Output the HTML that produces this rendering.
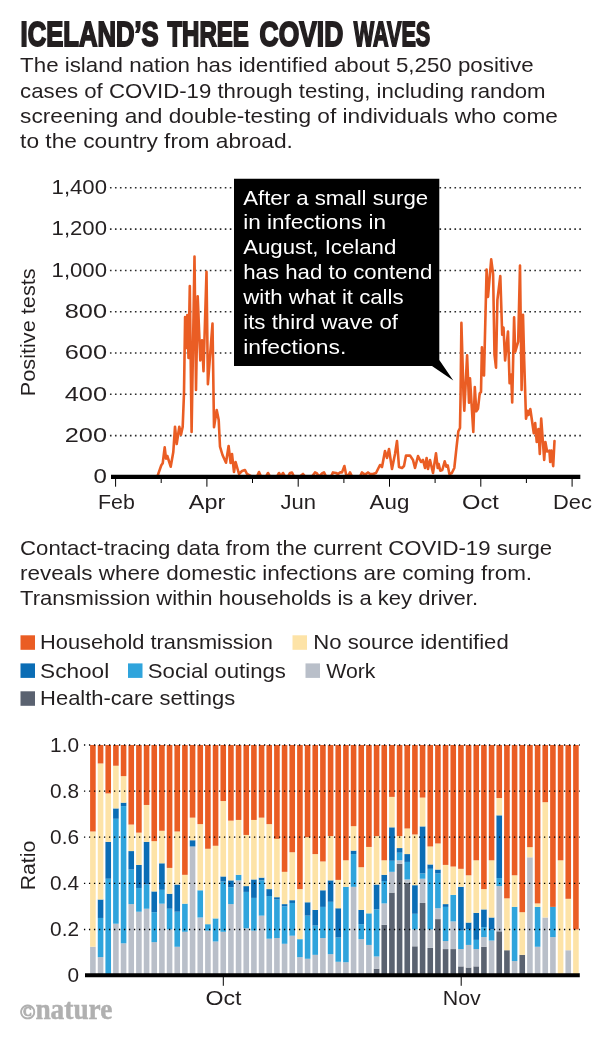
<!DOCTYPE html>
<html lang="en"><head><meta charset="utf-8"><title>Iceland's three COVID waves</title>
<style>html,body{margin:0;padding:0;background:#fff}body{width:600px;height:1040px;overflow:hidden}svg{display:block}text{font-family:"Liberation Sans",Arial,sans-serif;fill:#231F20}.b{font-size:20.8px}.w{fill:#fff}.t{font-weight:bold;font-size:34.5px}.n{font-family:"Liberation Serif","DejaVu Serif",serif;font-weight:bold;fill:#b0b0b0}.g{stroke:#1a1a1a;stroke-width:1.5;stroke-dasharray:1.6 3.4;fill:none}</style></head><body>
<svg width="600" height="1040" viewBox="0 0 600 1040">
<rect width="600" height="1040" fill="#fff"/>
<text class="t" x="20.6" y="46.1" textLength="138.0" lengthAdjust="spacingAndGlyphs" stroke="#231F20" stroke-width="1.9" stroke-linejoin="miter">ICELAND’S</text>
<text class="t" x="167.4" y="46.1" textLength="81.4" lengthAdjust="spacingAndGlyphs" stroke="#231F20" stroke-width="1.9" stroke-linejoin="miter">THREE</text>
<text class="t" x="259.6" y="46.1" textLength="83.6" lengthAdjust="spacingAndGlyphs" stroke="#231F20" stroke-width="1.9" stroke-linejoin="miter">COVID</text>
<text class="t" x="353.8" y="46.1" textLength="76.4" lengthAdjust="spacingAndGlyphs" stroke="#231F20" stroke-width="1.9" stroke-linejoin="miter">WAVES</text>
<text class="b" x="20.1" y="72.4" textLength="513.5" lengthAdjust="spacingAndGlyphs">The island nation has identified about 5,250 positive</text>
<text class="b" x="20.1" y="97.5" textLength="525.5" lengthAdjust="spacingAndGlyphs">cases of COVID-19 through testing, including random</text>
<text class="b" x="20.1" y="122.7" textLength="537.8" lengthAdjust="spacingAndGlyphs">screening and double-testing of individuals who come</text>
<text class="b" x="20.1" y="147.7" textLength="272.8" lengthAdjust="spacingAndGlyphs">to the country from abroad.</text>
<line class="g" style="stroke-dasharray:1.6 3.393;stroke-width:1.55;stroke:#2a2a2a" x1="109.95" x2="581.2" y1="435.6" y2="435.6"/>
<line class="g" style="stroke-dasharray:1.6 3.393;stroke-width:1.55;stroke:#2a2a2a" x1="109.95" x2="581.2" y1="394.3" y2="394.3"/>
<line class="g" style="stroke-dasharray:1.6 3.393;stroke-width:1.55;stroke:#2a2a2a" x1="109.95" x2="581.2" y1="353.0" y2="353.0"/>
<line class="g" style="stroke-dasharray:1.6 3.393;stroke-width:1.55;stroke:#2a2a2a" x1="109.95" x2="581.2" y1="311.7" y2="311.7"/>
<line class="g" style="stroke-dasharray:1.6 3.393;stroke-width:1.55;stroke:#2a2a2a" x1="109.95" x2="581.2" y1="270.4" y2="270.4"/>
<line class="g" style="stroke-dasharray:1.6 3.393;stroke-width:1.55;stroke:#2a2a2a" x1="109.95" x2="581.2" y1="229.1" y2="229.1"/>
<line class="g" style="stroke-dasharray:1.6 3.393;stroke-width:1.55;stroke:#2a2a2a" x1="109.95" x2="581.2" y1="187.8" y2="187.8"/>
<text class="b" x="93.6" y="483.2" textLength="13.4" lengthAdjust="spacingAndGlyphs">0</text>
<text class="b" x="64.7" y="441.9" textLength="42.3" lengthAdjust="spacingAndGlyphs">200</text>
<text class="b" x="64.7" y="400.6" textLength="42.3" lengthAdjust="spacingAndGlyphs">400</text>
<text class="b" x="64.7" y="359.3" textLength="42.3" lengthAdjust="spacingAndGlyphs">600</text>
<text class="b" x="64.7" y="318.0" textLength="42.3" lengthAdjust="spacingAndGlyphs">800</text>
<text class="b" x="51.6" y="276.7" textLength="55.4" lengthAdjust="spacingAndGlyphs">1,000</text>
<text class="b" x="51.6" y="235.4" textLength="55.4" lengthAdjust="spacingAndGlyphs">1,200</text>
<text class="b" x="51.6" y="194.1" textLength="55.4" lengthAdjust="spacingAndGlyphs">1,400</text>
<text class="b" transform="translate(35.3,396.3) rotate(-90)" textLength="128" lengthAdjust="spacingAndGlyphs">Positive tests</text>
<polyline fill="none" stroke="#EA5D24" stroke-width="2.6" stroke-linejoin="round" stroke-linecap="round" points="157.3,476.6 161.3,465.3 162.7,463.3 164.7,447.3 166.0,458.7 167.3,456.0 170.7,466.7 173.3,452.0 175.0,426.7 176.7,444.0 179.3,426.7 181.0,434.7 182.7,426.7 184.0,393.3 185.1,317.0 186.1,348.0 187.3,315.0 188.5,358.0 189.8,286.1 191.6,432.0 194.5,256.5 196.0,390.0 197.7,296.2 200.3,360.4 202.0,340.2 203.5,371.2 206.5,271.7 207.9,384.2 212.5,323.6 214.0,427.3 216.7,410.0 218.7,420.0 220.0,446.7 222.5,455.0 226.0,462.7 228.6,446.0 230.6,463.0 232.0,454.0 234.0,472.0 235.6,462.0 239.0,474.0 242.0,471.0 245.0,470.0 247.0,474.0 252.0,476.6 257.0,476.6 259.0,472.0 261.0,476.6 266.0,476.6 268.0,473.0 270.0,476.6 277.0,476.6 279.0,473.0 281.0,476.6 283.0,473.0 285.0,476.6 288.0,476.6 290.0,473.0 292.0,472.5 294.0,476.6 300.0,476.6 303.0,474.0 305.0,476.6 312.0,476.6 315.0,472.4 317.0,473.5 319.0,476.6 322.0,473.5 324.0,472.4 326.0,476.6 331.0,476.6 333.0,472.4 336.0,473.0 338.0,474.0 340.0,472.4 342.0,472.4 344.4,466.0 346.0,474.0 348.0,476.6 350.0,472.4 352.0,476.6 356.0,476.6 360.0,476.6 362.0,472.4 364.0,474.0 366.0,474.0 368.0,472.4 370.0,474.0 373.0,474.0 376.0,473.0 380.0,465.0 382.0,467.0 385.0,451.0 387.0,458.0 389.0,449.0 392.0,469.0 395.0,454.0 397.0,441.0 399.0,467.0 402.0,468.0 404.0,466.0 406.0,455.6 410.0,455.6 413.0,460.0 415.0,468.0 418.0,456.0 421.0,462.0 423.0,460.0 425.0,468.0 426.6,458.0 428.0,469.0 430.0,460.0 433.0,473.0 436.0,453.3 437.7,468.0 438.7,464.0 440.3,470.7 442.3,470.0 444.7,461.3 446.3,466.7 447.7,465.3 449.4,474.0 451.7,473.3 454.3,468.0 456.3,449.3 458.3,431.3 460.0,428.0 460.6,393.3 461.4,322.9 463.5,395.0 464.3,410.7 467.1,355.3 469.0,402.7 470.0,378.4 473.3,432.0 474.8,387.0 476.3,411.3 478.0,408.7 479.7,393.3 481.0,392.0 481.9,347.4 483.0,374.8 484.0,375.5 486.6,269.5 488.0,297.0 491.2,259.4 493.1,273.8 494.5,354.6 496.0,367.6 497.4,299.8 500.3,276.0 502.2,334.6 503.5,327.5 505.1,360.5 508.0,331.5 509.6,383.3 511.2,374.5 512.2,402.5 514.1,317.4 515.2,352.0 518.2,341.6 520.0,265.5 521.6,390.0 523.0,314.8 524.2,360.6 526.0,418.6 527.7,410.8 528.6,415.0 530.3,409.0 533.8,433.3 535.2,423.0 536.7,442.0 538.4,429.0 539.8,454.0 541.2,418.6 544.2,460.0 545.4,442.0 547.1,451.5 549.4,450.6 550.2,462.0 551.4,450.6 553.2,466.2 554.5,441.0"/>
<line x1="111" x2="580.3" y1="476.9" y2="476.9" stroke="#000" stroke-width="4.1"/>
<line x1="115.6" x2="115.6" y1="478" y2="486.7" stroke="#000" stroke-width="1"/>
<text class="b" x="98.0" y="509.2" textLength="36.8" lengthAdjust="spacingAndGlyphs">Feb</text>
<line x1="161.2" x2="161.2" y1="478" y2="483" stroke="#000" stroke-width="1"/>
<line x1="206.9" x2="206.9" y1="478" y2="486.7" stroke="#000" stroke-width="1"/>
<text class="b" x="188.8" y="509.2" textLength="36.4" lengthAdjust="spacingAndGlyphs">Apr</text>
<line x1="252.5" x2="252.5" y1="478" y2="483" stroke="#000" stroke-width="1"/>
<line x1="298.2" x2="298.2" y1="478" y2="486.7" stroke="#000" stroke-width="1"/>
<text class="b" x="280.5" y="509.2" textLength="35.5" lengthAdjust="spacingAndGlyphs">Jun</text>
<line x1="343.9" x2="343.9" y1="478" y2="483" stroke="#000" stroke-width="1"/>
<line x1="389.5" x2="389.5" y1="478" y2="486.7" stroke="#000" stroke-width="1"/>
<text class="b" x="369.6" y="509.2" textLength="39.7" lengthAdjust="spacingAndGlyphs">Aug</text>
<line x1="435.1" x2="435.1" y1="478" y2="483" stroke="#000" stroke-width="1"/>
<line x1="480.8" x2="480.8" y1="478" y2="486.7" stroke="#000" stroke-width="1"/>
<text class="b" x="462.1" y="509.2" textLength="36.8" lengthAdjust="spacingAndGlyphs">Oct</text>
<line x1="526.4" x2="526.4" y1="478" y2="483" stroke="#000" stroke-width="1"/>
<line x1="572.1" x2="572.1" y1="478" y2="486.7" stroke="#000" stroke-width="1"/>
<text class="b" x="553.0" y="509.2" textLength="38.8" lengthAdjust="spacingAndGlyphs">Dec</text>
<path d="M234 178.8H439.3V360L453.3 380.4L432 366H234Z" fill="#000"/>
<text class="b w" x="243.2" y="204.5" textLength="185.0" lengthAdjust="spacingAndGlyphs">After a small surge</text>
<text class="b w" x="243.2" y="229.4" textLength="142.8" lengthAdjust="spacingAndGlyphs">in infections in</text>
<text class="b w" x="243.2" y="254.3" textLength="153.1" lengthAdjust="spacingAndGlyphs">August, Iceland</text>
<text class="b w" x="243.2" y="279.2" textLength="189.1" lengthAdjust="spacingAndGlyphs">has had to contend</text>
<text class="b w" x="243.2" y="304.1" textLength="160.4" lengthAdjust="spacingAndGlyphs">with what it calls</text>
<text class="b w" x="243.2" y="329.0" textLength="154.8" lengthAdjust="spacingAndGlyphs">its third wave of</text>
<text class="b w" x="243.2" y="353.9" textLength="103.1" lengthAdjust="spacingAndGlyphs">infections.</text>
<text class="b" x="20.1" y="555.0" textLength="532.0" lengthAdjust="spacingAndGlyphs">Contact-tracing data from the current COVID-19 surge</text>
<text class="b" x="20.1" y="579.8" textLength="512.0" lengthAdjust="spacingAndGlyphs">reveals where domestic infections are coming from.</text>
<text class="b" x="20.1" y="604.5" textLength="458.0" lengthAdjust="spacingAndGlyphs">Transmission within households is a key driver.</text>
<rect x="20.5" y="635.3" width="14.5" height="14.5" fill="#EA5D24"/>
<text class="b" x="40.1" y="649.4" textLength="232.8" lengthAdjust="spacingAndGlyphs">Household transmission</text>
<rect x="292.5" y="635.3" width="14.5" height="14.5" fill="#FDE3A7"/>
<text class="b" x="313.3" y="649.4" textLength="195.4" lengthAdjust="spacingAndGlyphs">No source identified</text>
<rect x="20.5" y="663.4" width="14.5" height="14.5" fill="#0B6DB5"/>
<text class="b" x="40.1" y="677.5" textLength="69.1" lengthAdjust="spacingAndGlyphs">School</text>
<rect x="128.0" y="663.4" width="14.5" height="14.5" fill="#2FA4DC"/>
<text class="b" x="147.8" y="677.5" textLength="138.1" lengthAdjust="spacingAndGlyphs">Social outings</text>
<rect x="305.5" y="663.4" width="14.5" height="14.5" fill="#B9BFC9"/>
<text class="b" x="326.3" y="677.5" textLength="49.2" lengthAdjust="spacingAndGlyphs">Work</text>
<rect x="20.5" y="691.3" width="14.5" height="14.5" fill="#5A6270"/>
<text class="b" x="40.1" y="705.4" textLength="195.1" lengthAdjust="spacingAndGlyphs">Health-care settings</text>
<rect x="90.10" y="946.77" width="5.60" height="28.83" fill="#B9BFC9"/>
<rect x="90.10" y="831.48" width="5.60" height="115.30" fill="#FDE3A7"/>
<rect x="90.10" y="745.00" width="5.60" height="86.48" fill="#EA5D24"/>
<rect x="97.77" y="957.15" width="5.60" height="18.45" fill="#B9BFC9"/>
<rect x="97.77" y="917.95" width="5.60" height="39.20" fill="#2FA4DC"/>
<rect x="97.77" y="899.50" width="5.60" height="18.45" fill="#0B6DB5"/>
<rect x="97.77" y="763.45" width="5.60" height="136.05" fill="#FDE3A7"/>
<rect x="97.77" y="745.00" width="5.60" height="18.45" fill="#EA5D24"/>
<rect x="105.43" y="878.75" width="5.60" height="96.85" fill="#2FA4DC"/>
<rect x="105.43" y="841.85" width="5.60" height="36.90" fill="#0B6DB5"/>
<rect x="105.43" y="793.43" width="5.60" height="48.43" fill="#FDE3A7"/>
<rect x="105.43" y="745.00" width="5.60" height="48.43" fill="#EA5D24"/>
<rect x="113.10" y="923.72" width="5.60" height="51.88" fill="#B9BFC9"/>
<rect x="113.10" y="818.79" width="5.60" height="104.92" fill="#2FA4DC"/>
<rect x="113.10" y="808.41" width="5.60" height="10.38" fill="#0B6DB5"/>
<rect x="113.10" y="765.75" width="5.60" height="42.66" fill="#FDE3A7"/>
<rect x="113.10" y="745.00" width="5.60" height="20.75" fill="#EA5D24"/>
<rect x="120.77" y="943.32" width="5.60" height="32.28" fill="#B9BFC9"/>
<rect x="120.77" y="806.11" width="5.60" height="137.21" fill="#2FA4DC"/>
<rect x="120.77" y="802.65" width="5.60" height="3.46" fill="#0B6DB5"/>
<rect x="120.77" y="776.13" width="5.60" height="26.52" fill="#FDE3A7"/>
<rect x="120.77" y="745.00" width="5.60" height="31.13" fill="#EA5D24"/>
<rect x="128.44" y="904.11" width="5.60" height="71.49" fill="#B9BFC9"/>
<rect x="128.44" y="869.52" width="5.60" height="34.59" fill="#2FA4DC"/>
<rect x="128.44" y="851.08" width="5.60" height="18.45" fill="#0B6DB5"/>
<rect x="128.44" y="824.56" width="5.60" height="26.52" fill="#FDE3A7"/>
<rect x="128.44" y="745.00" width="5.60" height="79.56" fill="#EA5D24"/>
<rect x="136.10" y="911.72" width="5.60" height="63.88" fill="#B9BFC9"/>
<rect x="136.10" y="887.97" width="5.60" height="23.75" fill="#2FA4DC"/>
<rect x="136.10" y="864.91" width="5.60" height="23.06" fill="#0B6DB5"/>
<rect x="136.10" y="832.63" width="5.60" height="32.28" fill="#FDE3A7"/>
<rect x="136.10" y="745.00" width="5.60" height="87.63" fill="#EA5D24"/>
<rect x="143.77" y="908.73" width="5.60" height="66.87" fill="#B9BFC9"/>
<rect x="143.77" y="884.51" width="5.60" height="24.21" fill="#2FA4DC"/>
<rect x="143.77" y="841.85" width="5.60" height="42.66" fill="#0B6DB5"/>
<rect x="143.77" y="804.96" width="5.60" height="36.90" fill="#FDE3A7"/>
<rect x="143.77" y="745.00" width="5.60" height="59.96" fill="#EA5D24"/>
<rect x="151.44" y="942.16" width="5.60" height="33.44" fill="#B9BFC9"/>
<rect x="151.44" y="912.19" width="5.60" height="29.98" fill="#2FA4DC"/>
<rect x="151.44" y="891.43" width="5.60" height="20.75" fill="#0B6DB5"/>
<rect x="151.44" y="841.16" width="5.60" height="50.27" fill="#FDE3A7"/>
<rect x="151.44" y="745.00" width="5.60" height="96.16" fill="#EA5D24"/>
<rect x="159.10" y="903.65" width="5.60" height="71.95" fill="#B9BFC9"/>
<rect x="159.10" y="889.82" width="5.60" height="13.84" fill="#2FA4DC"/>
<rect x="159.10" y="863.30" width="5.60" height="26.52" fill="#0B6DB5"/>
<rect x="159.10" y="830.78" width="5.60" height="32.51" fill="#FDE3A7"/>
<rect x="159.10" y="745.00" width="5.60" height="85.78" fill="#EA5D24"/>
<rect x="166.77" y="929.48" width="5.60" height="46.12" fill="#B9BFC9"/>
<rect x="166.77" y="908.73" width="5.60" height="20.75" fill="#2FA4DC"/>
<rect x="166.77" y="893.74" width="5.60" height="14.99" fill="#0B6DB5"/>
<rect x="166.77" y="867.91" width="5.60" height="25.83" fill="#FDE3A7"/>
<rect x="166.77" y="745.00" width="5.60" height="122.91" fill="#EA5D24"/>
<rect x="174.44" y="946.77" width="5.60" height="28.83" fill="#B9BFC9"/>
<rect x="174.44" y="911.72" width="5.60" height="35.05" fill="#2FA4DC"/>
<rect x="174.44" y="884.51" width="5.60" height="27.21" fill="#0B6DB5"/>
<rect x="174.44" y="831.48" width="5.60" height="53.04" fill="#FDE3A7"/>
<rect x="174.44" y="745.00" width="5.60" height="86.48" fill="#EA5D24"/>
<rect x="182.10" y="931.79" width="5.60" height="43.81" fill="#B9BFC9"/>
<rect x="182.10" y="903.65" width="5.60" height="28.13" fill="#2FA4DC"/>
<rect x="182.10" y="874.83" width="5.60" height="28.83" fill="#FDE3A7"/>
<rect x="182.10" y="745.00" width="5.60" height="129.83" fill="#EA5D24"/>
<rect x="189.77" y="846.46" width="5.60" height="129.14" fill="#B9BFC9"/>
<rect x="189.77" y="840.24" width="5.60" height="6.23" fill="#0B6DB5"/>
<rect x="189.77" y="817.64" width="5.60" height="22.60" fill="#FDE3A7"/>
<rect x="189.77" y="745.00" width="5.60" height="72.64" fill="#EA5D24"/>
<rect x="197.44" y="917.49" width="5.60" height="58.11" fill="#B9BFC9"/>
<rect x="197.44" y="890.28" width="5.60" height="27.21" fill="#2FA4DC"/>
<rect x="197.44" y="824.10" width="5.60" height="66.18" fill="#FDE3A7"/>
<rect x="197.44" y="745.00" width="5.60" height="79.10" fill="#EA5D24"/>
<rect x="205.10" y="930.63" width="5.60" height="44.97" fill="#B9BFC9"/>
<rect x="205.10" y="924.18" width="5.60" height="6.46" fill="#2FA4DC"/>
<rect x="205.10" y="848.77" width="5.60" height="75.41" fill="#FDE3A7"/>
<rect x="205.10" y="745.00" width="5.60" height="103.77" fill="#EA5D24"/>
<rect x="212.77" y="941.47" width="5.60" height="34.13" fill="#B9BFC9"/>
<rect x="212.77" y="918.41" width="5.60" height="23.06" fill="#2FA4DC"/>
<rect x="212.77" y="845.77" width="5.60" height="72.64" fill="#FDE3A7"/>
<rect x="212.77" y="745.00" width="5.60" height="100.77" fill="#EA5D24"/>
<rect x="220.44" y="931.79" width="5.60" height="43.81" fill="#B9BFC9"/>
<rect x="220.44" y="881.52" width="5.60" height="50.27" fill="#2FA4DC"/>
<rect x="220.44" y="876.44" width="5.60" height="5.07" fill="#0B6DB5"/>
<rect x="220.44" y="801.04" width="5.60" height="75.41" fill="#FDE3A7"/>
<rect x="220.44" y="745.00" width="5.60" height="56.04" fill="#EA5D24"/>
<rect x="228.11" y="904.11" width="5.60" height="71.49" fill="#B9BFC9"/>
<rect x="228.11" y="887.28" width="5.60" height="16.83" fill="#2FA4DC"/>
<rect x="228.11" y="880.36" width="5.60" height="6.92" fill="#0B6DB5"/>
<rect x="228.11" y="820.64" width="5.60" height="59.73" fill="#FDE3A7"/>
<rect x="228.11" y="745.00" width="5.60" height="75.64" fill="#EA5D24"/>
<rect x="235.77" y="880.36" width="5.60" height="95.24" fill="#B9BFC9"/>
<rect x="235.77" y="874.83" width="5.60" height="5.53" fill="#2FA4DC"/>
<rect x="235.77" y="819.94" width="5.60" height="54.88" fill="#FDE3A7"/>
<rect x="235.77" y="745.00" width="5.60" height="74.94" fill="#EA5D24"/>
<rect x="243.44" y="928.33" width="5.60" height="47.27" fill="#B9BFC9"/>
<rect x="243.44" y="891.89" width="5.60" height="36.43" fill="#2FA4DC"/>
<rect x="243.44" y="886.13" width="5.60" height="5.76" fill="#0B6DB5"/>
<rect x="243.44" y="834.93" width="5.60" height="51.19" fill="#FDE3A7"/>
<rect x="243.44" y="745.00" width="5.60" height="89.93" fill="#EA5D24"/>
<rect x="251.11" y="930.63" width="5.60" height="44.97" fill="#B9BFC9"/>
<rect x="251.11" y="897.89" width="5.60" height="32.75" fill="#2FA4DC"/>
<rect x="251.11" y="879.44" width="5.60" height="18.45" fill="#0B6DB5"/>
<rect x="251.11" y="819.94" width="5.60" height="59.49" fill="#FDE3A7"/>
<rect x="251.11" y="745.00" width="5.60" height="74.94" fill="#EA5D24"/>
<rect x="258.77" y="915.64" width="5.60" height="59.96" fill="#B9BFC9"/>
<rect x="258.77" y="880.36" width="5.60" height="35.28" fill="#2FA4DC"/>
<rect x="258.77" y="877.60" width="5.60" height="2.77" fill="#0B6DB5"/>
<rect x="258.77" y="817.64" width="5.60" height="59.96" fill="#FDE3A7"/>
<rect x="258.77" y="745.00" width="5.60" height="72.64" fill="#EA5D24"/>
<rect x="266.44" y="938.70" width="5.60" height="36.90" fill="#B9BFC9"/>
<rect x="266.44" y="896.04" width="5.60" height="42.66" fill="#2FA4DC"/>
<rect x="266.44" y="889.12" width="5.60" height="6.92" fill="#0B6DB5"/>
<rect x="266.44" y="824.10" width="5.60" height="65.03" fill="#FDE3A7"/>
<rect x="266.44" y="745.00" width="5.60" height="79.10" fill="#EA5D24"/>
<rect x="274.11" y="938.01" width="5.60" height="37.59" fill="#B9BFC9"/>
<rect x="274.11" y="899.50" width="5.60" height="38.51" fill="#2FA4DC"/>
<rect x="274.11" y="897.20" width="5.60" height="2.31" fill="#0B6DB5"/>
<rect x="274.11" y="838.85" width="5.60" height="58.34" fill="#FDE3A7"/>
<rect x="274.11" y="745.00" width="5.60" height="93.85" fill="#EA5D24"/>
<rect x="281.77" y="943.78" width="5.60" height="31.82" fill="#B9BFC9"/>
<rect x="281.77" y="906.42" width="5.60" height="37.36" fill="#2FA4DC"/>
<rect x="281.77" y="904.11" width="5.60" height="2.31" fill="#0B6DB5"/>
<rect x="281.77" y="871.83" width="5.60" height="32.28" fill="#FDE3A7"/>
<rect x="281.77" y="745.00" width="5.60" height="126.83" fill="#EA5D24"/>
<rect x="289.44" y="935.71" width="5.60" height="39.89" fill="#B9BFC9"/>
<rect x="289.44" y="902.96" width="5.60" height="32.75" fill="#2FA4DC"/>
<rect x="289.44" y="900.19" width="5.60" height="2.77" fill="#0B6DB5"/>
<rect x="289.44" y="852.23" width="5.60" height="47.96" fill="#FDE3A7"/>
<rect x="289.44" y="745.00" width="5.60" height="107.23" fill="#EA5D24"/>
<rect x="297.11" y="957.15" width="5.60" height="18.45" fill="#B9BFC9"/>
<rect x="297.11" y="939.17" width="5.60" height="17.99" fill="#2FA4DC"/>
<rect x="297.11" y="889.12" width="5.60" height="50.04" fill="#FDE3A7"/>
<rect x="297.11" y="745.00" width="5.60" height="144.12" fill="#EA5D24"/>
<rect x="304.78" y="958.77" width="5.60" height="16.83" fill="#B9BFC9"/>
<rect x="304.78" y="915.64" width="5.60" height="43.12" fill="#2FA4DC"/>
<rect x="304.78" y="902.27" width="5.60" height="13.37" fill="#0B6DB5"/>
<rect x="304.78" y="837.24" width="5.60" height="65.03" fill="#FDE3A7"/>
<rect x="304.78" y="745.00" width="5.60" height="92.24" fill="#EA5D24"/>
<rect x="312.44" y="954.85" width="5.60" height="20.75" fill="#B9BFC9"/>
<rect x="312.44" y="925.56" width="5.60" height="29.29" fill="#2FA4DC"/>
<rect x="312.44" y="909.88" width="5.60" height="15.68" fill="#0B6DB5"/>
<rect x="312.44" y="854.07" width="5.60" height="55.81" fill="#FDE3A7"/>
<rect x="312.44" y="745.00" width="5.60" height="109.07" fill="#EA5D24"/>
<rect x="320.11" y="938.01" width="5.60" height="37.59" fill="#B9BFC9"/>
<rect x="320.11" y="906.88" width="5.60" height="31.13" fill="#2FA4DC"/>
<rect x="320.11" y="890.28" width="5.60" height="16.60" fill="#0B6DB5"/>
<rect x="320.11" y="861.45" width="5.60" height="28.83" fill="#FDE3A7"/>
<rect x="320.11" y="745.00" width="5.60" height="116.45" fill="#EA5D24"/>
<rect x="327.78" y="954.15" width="5.60" height="21.45" fill="#B9BFC9"/>
<rect x="327.78" y="901.81" width="5.60" height="52.35" fill="#2FA4DC"/>
<rect x="327.78" y="880.36" width="5.60" height="21.45" fill="#0B6DB5"/>
<rect x="327.78" y="836.09" width="5.60" height="44.28" fill="#FDE3A7"/>
<rect x="327.78" y="745.00" width="5.60" height="91.09" fill="#EA5D24"/>
<rect x="335.44" y="961.76" width="5.60" height="13.84" fill="#B9BFC9"/>
<rect x="335.44" y="937.55" width="5.60" height="24.21" fill="#2FA4DC"/>
<rect x="335.44" y="908.26" width="5.60" height="29.29" fill="#0B6DB5"/>
<rect x="335.44" y="879.90" width="5.60" height="28.36" fill="#FDE3A7"/>
<rect x="335.44" y="745.00" width="5.60" height="134.90" fill="#EA5D24"/>
<rect x="343.11" y="962.23" width="5.60" height="13.37" fill="#B9BFC9"/>
<rect x="343.11" y="886.82" width="5.60" height="75.41" fill="#2FA4DC"/>
<rect x="343.11" y="860.30" width="5.60" height="26.52" fill="#FDE3A7"/>
<rect x="343.11" y="745.00" width="5.60" height="115.30" fill="#EA5D24"/>
<rect x="350.78" y="886.82" width="5.60" height="88.78" fill="#B9BFC9"/>
<rect x="350.78" y="854.07" width="5.60" height="32.75" fill="#2FA4DC"/>
<rect x="350.78" y="850.61" width="5.60" height="3.46" fill="#0B6DB5"/>
<rect x="350.78" y="826.17" width="5.60" height="24.44" fill="#FDE3A7"/>
<rect x="350.78" y="745.00" width="5.60" height="81.17" fill="#EA5D24"/>
<rect x="358.44" y="939.17" width="5.60" height="36.43" fill="#B9BFC9"/>
<rect x="358.44" y="924.18" width="5.60" height="14.99" fill="#2FA4DC"/>
<rect x="358.44" y="909.88" width="5.60" height="14.30" fill="#0B6DB5"/>
<rect x="358.44" y="867.22" width="5.60" height="42.66" fill="#FDE3A7"/>
<rect x="358.44" y="745.00" width="5.60" height="122.22" fill="#EA5D24"/>
<rect x="366.11" y="944.93" width="5.60" height="30.67" fill="#B9BFC9"/>
<rect x="366.11" y="913.34" width="5.60" height="31.59" fill="#2FA4DC"/>
<rect x="366.11" y="846.93" width="5.60" height="66.41" fill="#FDE3A7"/>
<rect x="366.11" y="745.00" width="5.60" height="101.93" fill="#EA5D24"/>
<rect x="373.78" y="968.68" width="5.60" height="6.92" fill="#5A6270"/>
<rect x="373.78" y="956.46" width="5.60" height="12.22" fill="#B9BFC9"/>
<rect x="373.78" y="909.42" width="5.60" height="47.04" fill="#2FA4DC"/>
<rect x="373.78" y="884.51" width="5.60" height="24.90" fill="#0B6DB5"/>
<rect x="373.78" y="836.09" width="5.60" height="48.43" fill="#FDE3A7"/>
<rect x="373.78" y="745.00" width="5.60" height="91.09" fill="#EA5D24"/>
<rect x="381.45" y="924.87" width="5.60" height="50.73" fill="#5A6270"/>
<rect x="381.45" y="903.42" width="5.60" height="21.45" fill="#B9BFC9"/>
<rect x="381.45" y="881.05" width="5.60" height="22.37" fill="#2FA4DC"/>
<rect x="381.45" y="874.83" width="5.60" height="6.23" fill="#0B6DB5"/>
<rect x="381.45" y="860.30" width="5.60" height="14.53" fill="#FDE3A7"/>
<rect x="381.45" y="745.00" width="5.60" height="115.30" fill="#EA5D24"/>
<rect x="389.11" y="892.58" width="5.60" height="83.02" fill="#5A6270"/>
<rect x="389.11" y="871.83" width="5.60" height="20.75" fill="#B9BFC9"/>
<rect x="389.11" y="860.76" width="5.60" height="11.07" fill="#2FA4DC"/>
<rect x="389.11" y="827.32" width="5.60" height="33.44" fill="#0B6DB5"/>
<rect x="389.11" y="796.88" width="5.60" height="30.44" fill="#FDE3A7"/>
<rect x="389.11" y="745.00" width="5.60" height="51.88" fill="#EA5D24"/>
<rect x="396.78" y="863.76" width="5.60" height="111.84" fill="#5A6270"/>
<rect x="396.78" y="860.30" width="5.60" height="3.46" fill="#B9BFC9"/>
<rect x="396.78" y="852.69" width="5.60" height="7.61" fill="#2FA4DC"/>
<rect x="396.78" y="848.08" width="5.60" height="4.61" fill="#0B6DB5"/>
<rect x="396.78" y="836.09" width="5.60" height="11.99" fill="#FDE3A7"/>
<rect x="396.78" y="745.00" width="5.60" height="91.09" fill="#EA5D24"/>
<rect x="404.45" y="882.67" width="5.60" height="92.93" fill="#5A6270"/>
<rect x="404.45" y="879.44" width="5.60" height="3.23" fill="#B9BFC9"/>
<rect x="404.45" y="861.91" width="5.60" height="17.53" fill="#2FA4DC"/>
<rect x="404.45" y="854.07" width="5.60" height="7.84" fill="#0B6DB5"/>
<rect x="404.45" y="828.48" width="5.60" height="25.60" fill="#FDE3A7"/>
<rect x="404.45" y="745.00" width="5.60" height="83.48" fill="#EA5D24"/>
<rect x="412.11" y="946.31" width="5.60" height="29.29" fill="#5A6270"/>
<rect x="412.11" y="929.48" width="5.60" height="16.83" fill="#B9BFC9"/>
<rect x="412.11" y="913.80" width="5.60" height="15.68" fill="#2FA4DC"/>
<rect x="412.11" y="885.20" width="5.60" height="28.59" fill="#0B6DB5"/>
<rect x="412.11" y="834.47" width="5.60" height="50.73" fill="#FDE3A7"/>
<rect x="412.11" y="745.00" width="5.60" height="89.47" fill="#EA5D24"/>
<rect x="419.78" y="902.96" width="5.60" height="72.64" fill="#5A6270"/>
<rect x="419.78" y="878.75" width="5.60" height="24.21" fill="#B9BFC9"/>
<rect x="419.78" y="873.44" width="5.60" height="5.30" fill="#2FA4DC"/>
<rect x="419.78" y="826.40" width="5.60" height="47.04" fill="#0B6DB5"/>
<rect x="419.78" y="797.58" width="5.60" height="28.82" fill="#FDE3A7"/>
<rect x="419.78" y="745.00" width="5.60" height="52.58" fill="#EA5D24"/>
<rect x="427.45" y="947.93" width="5.60" height="27.67" fill="#5A6270"/>
<rect x="427.45" y="929.48" width="5.60" height="18.45" fill="#B9BFC9"/>
<rect x="427.45" y="868.83" width="5.60" height="60.65" fill="#2FA4DC"/>
<rect x="427.45" y="864.45" width="5.60" height="4.38" fill="#0B6DB5"/>
<rect x="427.45" y="846.46" width="5.60" height="17.99" fill="#FDE3A7"/>
<rect x="427.45" y="745.00" width="5.60" height="101.46" fill="#EA5D24"/>
<rect x="435.12" y="919.10" width="5.60" height="56.50" fill="#5A6270"/>
<rect x="435.12" y="908.26" width="5.60" height="10.84" fill="#B9BFC9"/>
<rect x="435.12" y="873.44" width="5.60" height="34.82" fill="#2FA4DC"/>
<rect x="435.12" y="869.52" width="5.60" height="3.92" fill="#0B6DB5"/>
<rect x="435.12" y="843.47" width="5.60" height="26.06" fill="#FDE3A7"/>
<rect x="435.12" y="745.00" width="5.60" height="98.47" fill="#EA5D24"/>
<rect x="442.78" y="949.08" width="5.60" height="26.52" fill="#5A6270"/>
<rect x="442.78" y="941.01" width="5.60" height="8.07" fill="#B9BFC9"/>
<rect x="442.78" y="906.88" width="5.60" height="34.13" fill="#2FA4DC"/>
<rect x="442.78" y="904.11" width="5.60" height="2.77" fill="#0B6DB5"/>
<rect x="442.78" y="864.91" width="5.60" height="39.20" fill="#FDE3A7"/>
<rect x="442.78" y="745.00" width="5.60" height="119.91" fill="#EA5D24"/>
<rect x="450.45" y="949.08" width="5.60" height="26.52" fill="#5A6270"/>
<rect x="450.45" y="921.41" width="5.60" height="27.67" fill="#B9BFC9"/>
<rect x="450.45" y="894.89" width="5.60" height="26.52" fill="#2FA4DC"/>
<rect x="450.45" y="866.53" width="5.60" height="28.36" fill="#FDE3A7"/>
<rect x="450.45" y="745.00" width="5.60" height="121.53" fill="#EA5D24"/>
<rect x="458.12" y="966.38" width="5.60" height="9.22" fill="#5A6270"/>
<rect x="458.12" y="949.08" width="5.60" height="17.29" fill="#B9BFC9"/>
<rect x="458.12" y="930.63" width="5.60" height="18.45" fill="#2FA4DC"/>
<rect x="458.12" y="886.82" width="5.60" height="43.81" fill="#0B6DB5"/>
<rect x="458.12" y="868.83" width="5.60" height="17.99" fill="#FDE3A7"/>
<rect x="458.12" y="745.00" width="5.60" height="123.83" fill="#EA5D24"/>
<rect x="465.78" y="967.53" width="5.60" height="8.07" fill="#5A6270"/>
<rect x="465.78" y="944.93" width="5.60" height="22.60" fill="#B9BFC9"/>
<rect x="465.78" y="929.48" width="5.60" height="15.45" fill="#2FA4DC"/>
<rect x="465.78" y="922.56" width="5.60" height="6.92" fill="#0B6DB5"/>
<rect x="465.78" y="875.29" width="5.60" height="47.27" fill="#FDE3A7"/>
<rect x="465.78" y="745.00" width="5.60" height="130.29" fill="#EA5D24"/>
<rect x="473.45" y="966.38" width="5.60" height="9.22" fill="#5A6270"/>
<rect x="473.45" y="949.08" width="5.60" height="17.29" fill="#B9BFC9"/>
<rect x="473.45" y="939.86" width="5.60" height="9.22" fill="#2FA4DC"/>
<rect x="473.45" y="912.88" width="5.60" height="26.98" fill="#0B6DB5"/>
<rect x="473.45" y="860.30" width="5.60" height="52.58" fill="#FDE3A7"/>
<rect x="473.45" y="745.00" width="5.60" height="115.30" fill="#EA5D24"/>
<rect x="481.12" y="946.77" width="5.60" height="28.83" fill="#5A6270"/>
<rect x="481.12" y="937.09" width="5.60" height="9.69" fill="#B9BFC9"/>
<rect x="481.12" y="927.17" width="5.60" height="9.92" fill="#2FA4DC"/>
<rect x="481.12" y="909.42" width="5.60" height="17.76" fill="#0B6DB5"/>
<rect x="481.12" y="889.12" width="5.60" height="20.29" fill="#FDE3A7"/>
<rect x="481.12" y="745.00" width="5.60" height="144.12" fill="#EA5D24"/>
<rect x="488.78" y="940.55" width="5.60" height="35.05" fill="#B9BFC9"/>
<rect x="488.78" y="929.48" width="5.60" height="11.07" fill="#2FA4DC"/>
<rect x="488.78" y="917.49" width="5.60" height="11.99" fill="#0B6DB5"/>
<rect x="488.78" y="860.30" width="5.60" height="57.19" fill="#FDE3A7"/>
<rect x="488.78" y="745.00" width="5.60" height="115.30" fill="#EA5D24"/>
<rect x="496.45" y="931.32" width="5.60" height="44.28" fill="#5A6270"/>
<rect x="496.45" y="886.13" width="5.60" height="45.20" fill="#B9BFC9"/>
<rect x="496.45" y="878.06" width="5.60" height="8.07" fill="#2FA4DC"/>
<rect x="496.45" y="815.33" width="5.60" height="62.72" fill="#0B6DB5"/>
<rect x="496.45" y="798.04" width="5.60" height="17.30" fill="#FDE3A7"/>
<rect x="496.45" y="745.00" width="5.60" height="53.04" fill="#EA5D24"/>
<rect x="504.12" y="950.23" width="5.60" height="25.37" fill="#5A6270"/>
<rect x="504.12" y="898.35" width="5.60" height="51.88" fill="#FDE3A7"/>
<rect x="504.12" y="745.00" width="5.60" height="153.35" fill="#EA5D24"/>
<rect x="511.78" y="961.07" width="5.60" height="14.53" fill="#B9BFC9"/>
<rect x="511.78" y="906.88" width="5.60" height="54.19" fill="#2FA4DC"/>
<rect x="511.78" y="875.29" width="5.60" height="31.59" fill="#FDE3A7"/>
<rect x="511.78" y="745.00" width="5.60" height="130.29" fill="#EA5D24"/>
<rect x="519.45" y="954.85" width="5.60" height="20.75" fill="#5A6270"/>
<rect x="519.45" y="912.19" width="5.60" height="42.66" fill="#FDE3A7"/>
<rect x="519.45" y="745.00" width="5.60" height="167.19" fill="#EA5D24"/>
<rect x="527.12" y="857.30" width="5.60" height="118.30" fill="#B9BFC9"/>
<rect x="527.12" y="847.16" width="5.60" height="10.15" fill="#FDE3A7"/>
<rect x="527.12" y="745.00" width="5.60" height="102.16" fill="#EA5D24"/>
<rect x="534.79" y="946.77" width="5.60" height="28.83" fill="#B9BFC9"/>
<rect x="534.79" y="906.88" width="5.60" height="39.89" fill="#2FA4DC"/>
<rect x="534.79" y="903.42" width="5.60" height="3.46" fill="#FDE3A7"/>
<rect x="534.79" y="745.00" width="5.60" height="158.42" fill="#EA5D24"/>
<rect x="542.45" y="917.49" width="5.60" height="58.11" fill="#B9BFC9"/>
<rect x="542.45" y="802.19" width="5.60" height="115.30" fill="#FDE3A7"/>
<rect x="542.45" y="745.00" width="5.60" height="57.19" fill="#EA5D24"/>
<rect x="550.12" y="937.09" width="5.60" height="38.51" fill="#B9BFC9"/>
<rect x="550.12" y="906.88" width="5.60" height="30.21" fill="#2FA4DC"/>
<rect x="550.12" y="745.00" width="5.60" height="161.88" fill="#EA5D24"/>
<rect x="557.79" y="860.30" width="5.60" height="115.30" fill="#FDE3A7"/>
<rect x="557.79" y="745.00" width="5.60" height="115.30" fill="#EA5D24"/>
<rect x="565.45" y="950.23" width="5.60" height="25.37" fill="#B9BFC9"/>
<rect x="565.45" y="898.81" width="5.60" height="51.42" fill="#FDE3A7"/>
<rect x="565.45" y="745.00" width="5.60" height="153.81" fill="#EA5D24"/>
<rect x="573.12" y="929.48" width="5.60" height="46.12" fill="#FDE3A7"/>
<rect x="573.12" y="745.00" width="5.60" height="184.48" fill="#EA5D24"/>
<line class="g" style="stroke-dasharray:1.3 3.7;stroke-width:1.3;stroke:#000" x1="83.95" x2="579.8" y1="929.5" y2="929.5"/>
<line class="g" style="stroke-dasharray:1.3 3.7;stroke-width:1.3;stroke:#000" x1="83.95" x2="579.8" y1="883.4" y2="883.4"/>
<line class="g" style="stroke-dasharray:1.3 3.7;stroke-width:1.3;stroke:#000" x1="83.95" x2="579.8" y1="837.2" y2="837.2"/>
<line class="g" style="stroke-dasharray:1.3 3.7;stroke-width:1.3;stroke:#000" x1="83.95" x2="579.8" y1="791.1" y2="791.1"/>
<line class="g" style="stroke-dasharray:1.3 3.7;stroke-width:1.3;stroke:#000" x1="83.95" x2="579.8" y1="745.0" y2="745.0"/>
<text class="b" x="79" y="982.4" text-anchor="end">0</text>
<text class="b" x="79" y="936.3" text-anchor="end">0.2</text>
<text class="b" x="79" y="890.2" text-anchor="end">0.4</text>
<text class="b" x="79" y="844.0" text-anchor="end">0.6</text>
<text class="b" x="79" y="797.9" text-anchor="end">0.8</text>
<text class="b" x="79" y="751.8" text-anchor="end">1.0</text>
<text class="b" transform="translate(35.3,890.3) rotate(-90)" textLength="49.5" lengthAdjust="spacingAndGlyphs">Ratio</text>
<line x1="85" x2="579.8" y1="975.3" y2="975.3" stroke="#000" stroke-width="4"/>
<line x1="223.3" x2="223.3" y1="977" y2="985.8" stroke="#000" stroke-width="1"/>
<text class="b" x="205.5" y="1004.6" textLength="36.0" lengthAdjust="spacingAndGlyphs">Oct</text>
<line x1="461.2" x2="461.2" y1="977" y2="985.8" stroke="#000" stroke-width="1"/>
<text class="b" x="442.8" y="1004.6" textLength="38.0" lengthAdjust="spacingAndGlyphs">Nov</text>
<text class="n" y="1019"><tspan x="19.8" font-size="21.5" textLength="15.6" lengthAdjust="spacingAndGlyphs" stroke="#b0b0b0" stroke-width="0.9">©</tspan><tspan x="35.4" font-size="29.5" textLength="77" lengthAdjust="spacingAndGlyphs" stroke="#b0b0b0" stroke-width="0.5">nature</tspan></text>
</svg></body></html>
